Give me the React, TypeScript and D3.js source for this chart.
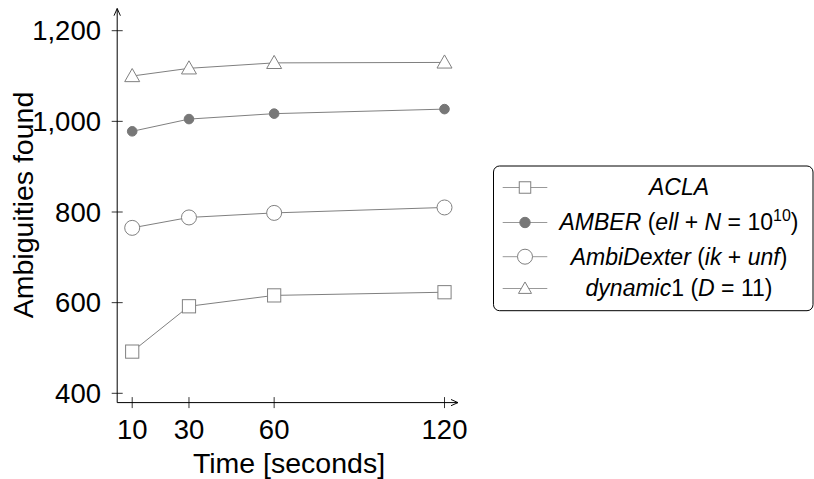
import React from 'react';
import * as d3 from 'd3';

// data
const times = [10, 30, 60, 120];
const aclaValues = [492, 592, 616, 623];
const amberValues = [978, 1005, 1017, 1027];
const ambiValues = [765, 788, 798, 810];
const dynamicValues = [1100, 1117, 1129, 1130];
const yTicks = [400, 600, 800, 1000, 1200];

const GRAY = '#808080';
const FONT = '"Liberation Sans", Arial, Helvetica, sans-serif';

type Marker = 'square' | 'dot' | 'circle' | 'triangle';

const seriesList: { name: string; values: number[]; marker: Marker }[] = [
  { name: 'ACLA', values: aclaValues, marker: 'square' },
  { name: 'AMBER', values: amberValues, marker: 'dot' },
  { name: 'AmbiDexter', values: ambiValues, marker: 'circle' },
  { name: 'dynamic1', values: dynamicValues, marker: 'triangle' },
];

const MarkerShape = ({ type, x, y, small }: { type: Marker; x: number; y: number; small?: boolean }) => {
  const k = small ? 0.87 : 1;
  if (type === 'square') {
    const h = 6.6 * k;
    return <rect x={x - h} y={y - h} width={2 * h} height={2 * h} fill="white" stroke={GRAY} strokeWidth={1} />;
  }
  if (type === 'dot') {
    return <circle cx={x} cy={y} r={small ? 5.2 : 4.8} fill="#777" stroke="#777" strokeWidth={1} />;
  }
  if (type === 'circle') {
    return <circle cx={x} cy={y} r={7.5} fill="white" stroke={GRAY} strokeWidth={1} />;
  }
  // triangle
  const s = 7.5 * k;
  const pts = `${x},${y - s} ${x - s},${y + s * 0.75} ${x + s},${y + s * 0.75}`;
  return <polygon points={pts} fill="white" stroke={GRAY} strokeWidth={1} />;
};

const App = () => {
  const width = 814;
  const height = 479;

  // шкалы
  const x = d3.scaleLinear().domain([10, 120]).range([132.2, 444.5]);
  const y = d3.scaleLinear().domain([400, 1200]).range([393.3, 30.7]);

  const axisX0 = 117.2;
  const axisY0 = 402.6;

  const line = d3
    .line<number>()
    .x((_, i) => x(times[i]))
    .y((d) => y(d));

  // legend layout
  const legend = { left: 493.5, top: 166, right: 813, bottom: 310.7 };
  const rowYs = [187.5, 222.5, 256.7, 288.5];
  const legendTextX = 679;

  const legendLabels = [
    <tspan fontStyle="italic">ACLA</tspan>,
    <>
      <tspan fontStyle="italic">AMBER</tspan>
      <tspan> (</tspan>
      <tspan fontStyle="italic">ell</tspan>
      <tspan> + </tspan>
      <tspan fontStyle="italic">N</tspan>
      <tspan> = 10</tspan>
      <tspan fontSize={16} dy={-9}>10</tspan>
      <tspan dy={9}>)</tspan>
    </>,
    <>
      <tspan fontStyle="italic">AmbiDexter</tspan>
      <tspan> (</tspan>
      <tspan fontStyle="italic">ik</tspan>
      <tspan> + </tspan>
      <tspan fontStyle="italic">unf</tspan>
      <tspan>)</tspan>
    </>,
    <>
      <tspan fontStyle="italic">dynamic</tspan>
      <tspan>1 (</tspan>
      <tspan fontStyle="italic">D</tspan>
      <tspan> = 11)</tspan>
    </>,
  ];

  return (
    <svg
      width={width}
      height={height}
      style={{ position: 'absolute', left: 0, top: 0, background: 'white' }}
      fontFamily={FONT}
    >
      <defs>
        <marker id="arrow" viewBox="0 0 10 10" refX="9" refY="5" markerWidth="8" markerHeight="8" orient="auto">
          <path d="M0,1 L9,5 L0,9" fill="none" stroke="black" strokeWidth={1.2} />
        </marker>
      </defs>

      {/* оси */}
      <line x1={axisX0} y1={axisY0} x2={458} y2={axisY0} stroke="black" strokeWidth={1} markerEnd="url(#arrow)" />
      <line x1={axisX0} y1={axisY0} x2={axisX0} y2={8.5} stroke="black" strokeWidth={1} markerEnd="url(#arrow)" />

      {yTicks.map((t) => (
        <g key={t}>
          <line x1={axisX0 - 5.5} x2={axisX0 + 5.5} y1={y(t)} y2={y(t)} stroke="black" strokeWidth={0.8} />
          <text x={101} y={y(t) + 9.5} textAnchor="end" fontSize={27.5}>
            {d3.format(',')(t)}
          </text>
        </g>
      ))}

      {times.map((t) => (
        <g key={t}>
          <line x1={x(t)} x2={x(t)} y1={axisY0 - 5.5} y2={axisY0 + 5.5} stroke="black" strokeWidth={0.8} />
          <text x={x(t)} y={438.5} textAnchor="middle" fontSize={27.5}>
            {t}
          </text>
        </g>
      ))}

      <text x={289} y={473} textAnchor="middle" fontSize={28.5}>
        Time [seconds]
      </text>
      <text transform="translate(33,205) rotate(-90)" textAnchor="middle" fontSize={28.5}>
        Ambiguities found
      </text>

      {/* линии и маркеры */}
      {seriesList.map((s) => (
        <g key={s.name}>
          <path d={line(s.values) || ''} fill="none" stroke={GRAY} strokeWidth={1} />
          {s.values.map((v, i) => (
            <MarkerShape key={i} type={s.marker} x={x(times[i])} y={y(v)} />
          ))}
        </g>
      ))}

      {/* легенда */}
      <rect
        x={legend.left}
        y={legend.top}
        width={legend.right - legend.left}
        height={legend.bottom - legend.top}
        rx={6}
        fill="white"
        stroke="black"
        strokeWidth={1}
      />
      {seriesList.map((s, i) => (
        <g key={s.name}>
          <line x1={502.7} x2={547.3} y1={rowYs[i]} y2={rowYs[i]} stroke="#999" strokeWidth={1} />
          <MarkerShape type={s.marker} x={525} y={rowYs[i]} small />
          <text x={legendTextX} y={rowYs[i] + 7.8} textAnchor="middle" fontSize={23}>
            {legendLabels[i]}
          </text>
        </g>
      ))}
    </svg>
  );
};

export default App;
